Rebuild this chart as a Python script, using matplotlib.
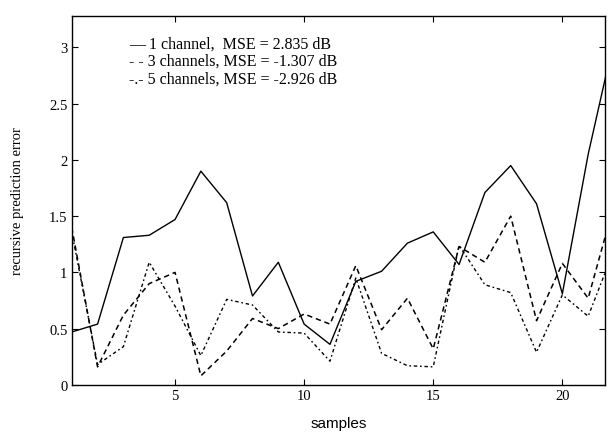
import matplotlib
matplotlib.use('Agg')
import matplotlib.pyplot as plt

samples = list(range(1, 23))

# recursive prediction error per sample for each channel count
err_1ch = [0.47, 0.54, 1.31, 1.33, 1.47, 1.90, 1.62, 0.79, 1.09, 0.54, 0.36,
           0.92, 1.01, 1.26, 1.36, 1.07, 1.71, 1.95, 1.61, 0.81, 2.05, 3.07]
err_3ch = [1.40, 0.16, 0.62, 0.90, 1.00, 0.08, 0.30, 0.59, 0.50, 0.63, 0.54,
           1.06, 0.49, 0.77, 0.32, 1.23, 1.09, 1.50, 0.57, 1.08, 0.77, 1.60]
err_5ch = [1.36, 0.18, 0.34, 1.09, 0.70, 0.26, 0.76, 0.71, 0.47, 0.46, 0.21,
           0.95, 0.28, 0.17, 0.16, 1.24, 0.89, 0.82, 0.29, 0.80, 0.61, 1.20]

legend_lines = ['\u2014 1 channel,  MSE = 2.835 dB',
                '- - 3 channels, MSE = -1.307 dB',
                '-.- 5 channels, MSE = -2.926 dB']

yticks = [0, 0.5, 1, 1.5, 2, 2.5, 3]
ytick_labels = ['0', '0.5', '1', '1.5', '2', '2.5', '3']
xticks = [5, 10, 15, 20]

serif = ['Liberation Serif', 'DejaVu Serif']

fig = plt.figure(figsize=(6.08, 4.35), dpi=100)
ax = fig.add_axes([0.118, 0.113, 0.877, 0.848])

ax.plot(samples, err_1ch, color='black', lw=1.0, ls='-')
ax.plot(samples, err_3ch, color='black', lw=1.1, ls=(0, (3.5, 2.5)))
ax.plot(samples, err_5ch, color='black', lw=1.0, ls=(0, (1.2, 2.0, 2.5, 2.0)))

ax.set_xlim(1, 21.65)
ax.set_ylim(0, 3.28)
ax.set_xticks(xticks)
ax.set_yticks(yticks)
ax.set_yticklabels(ytick_labels)
ax.tick_params(direction='in', length=4, width=0.8, top=True, right=True,
               labelsize=10.5, pad=3)
for lab in ax.get_xticklabels() + ax.get_yticklabels():
    lab.set_family(serif)
for sp in ax.spines.values():
    sp.set_linewidth(1.0)

for i, txt in enumerate(legend_lines):
    ax.text(0.108, 0.925 - i * 0.047, txt, transform=ax.transAxes,
            family=serif, fontsize=11.5, va='center', ha='left')

ax.set_xlabel('samples', family=['Liberation Sans', 'DejaVu Sans'],
              fontsize=11, labelpad=10)
ax.set_ylabel('recursive prediction error', family=serif, fontsize=10.5,
              labelpad=18)

fig.savefig('out.png', dpi=100)
